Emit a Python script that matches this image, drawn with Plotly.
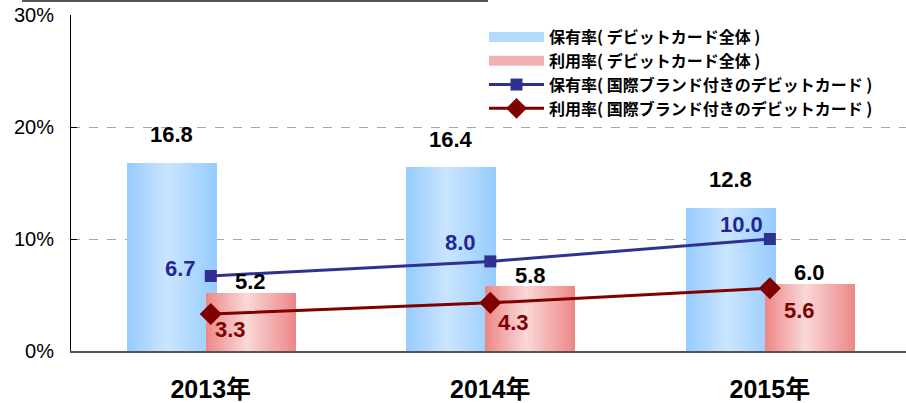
import plotly.graph_objects as go

# --- data -------------------------------------------------------------
years = ["2013年", "2014年", "2015年"]
own_all = [16.8, 16.4, 12.8]        # 保有率（デビットカード全体）
use_all = [5.2, 5.8, 6.0]           # 利用率（デビットカード全体）
own_intl = [6.7, 8.0, 10.0]         # 保有率（国際ブランド付きのデビットカード）
use_intl = [3.3, 4.3, 5.6]          # 利用率（国際ブランド付きのデビットカード）
y_ticks = [0, 10, 20, 30]
y_tick_text = ["0%", "10%", "20%", "30%"]

names = [
    "保有率( デビットカード全体 )",
    "利用率( デビットカード全体 )",
    "保有率( 国際ブランド付きのデビットカード )",
    "利用率( 国際ブランド付きのデビットカード )",
]

# --- style ------------------------------------------------------------
W, H = 906, 403
ML, MT, MB = 71, 15, 52
xpos = list(range(len(years)))
X_RANGE = [-0.5, 2.487]

BAR_W = 0.322
BLUE_OFF = -0.3005
PINK_OFF = -0.018
N_SLICES = 40

BLUE_EDGE, BLUE_LIGHT = (150, 203, 253), (202, 229, 254)
PINK_EDGE, PINK_LIGHT = (237, 134, 134), (250, 216, 216)
NAVY = "#2E3192"
MAROON = "#800000"

FONT = "Liberation Sans, Arial, Noto Sans CJK JP, sans-serif"
JP_FONT = "Noto Sans CJK JP, Liberation Sans, sans-serif"


def shade(edge, light, t, peak=0.45):
    f = t / peak if t <= peak else (1 - t) / (1 - peak)
    f = max(0.0, min(1.0, f))
    return "rgb(%d,%d,%d)" % tuple(round(e + (l - e) * f) for e, l in zip(edge, light))


fig = go.Figure()


def gradient_bars(values, offset, edge, light, name, legend_color):
    step = BAR_W / N_SLICES
    for i in range(N_SLICES):
        t = (i + 0.5) / N_SLICES
        fig.add_trace(go.Bar(
            x=xpos, y=values,
            offset=offset + i * step,
            width=step * (2.0 if i < N_SLICES - 1 else 1.0),
            marker=dict(color=shade(edge, light, t), line=dict(width=0)),
            showlegend=False, hoverinfo="skip",
        ))
    # legend entry for the series: a thick swatch
    fig.add_trace(go.Scatter(
        x=[None], y=[None], name=name, mode="lines",
        line=dict(color=legend_color, width=14),
    ))


gradient_bars(own_all, BLUE_OFF, BLUE_EDGE, BLUE_LIGHT, names[0], "#b4dafd")
gradient_bars(use_all, PINK_OFF, PINK_EDGE, PINK_LIGHT, names[1], "#f3b0b0")

fig.add_trace(go.Scatter(
    x=xpos, y=own_intl, name=names[2], mode="lines+markers",
    line=dict(color=NAVY, width=3),
    marker=dict(symbol="square", size=12, color=NAVY),
))
fig.add_trace(go.Scatter(
    x=xpos, y=use_intl, name=names[3], mode="lines+markers",
    line=dict(color=MAROON, width=3),
    marker=dict(symbol="diamond", size=17, color=MAROON),
))

# --- value labels -----------------------------------------------------
label_font = dict(family=FONT, size=22, color="black")
for i, v in enumerate(own_all):
    fig.add_annotation(x=xpos[i] + BLUE_OFF + BAR_W / 2, y=v, text="<b>%.1f</b>" % v,
                       showarrow=False, yshift=28, font=label_font)
for i, v in enumerate(use_all):
    fig.add_annotation(x=xpos[i] + PINK_OFF + BAR_W / 2, y=v, text="<b>%.1f</b>" % v,
                       showarrow=False, yshift=11, font=label_font)

own_shift = [(-30, 7), (-30, 19), (-28, 15)]
for i, v in enumerate(own_intl):
    dx, dy = own_shift[i]
    fig.add_annotation(x=xpos[i], y=v, text="<b>%.1f</b>" % v, showarrow=False,
                       xshift=dx, yshift=dy, font=dict(family=FONT, size=22, color="#1F2896"))
use_shift = [(20, -15), (23, -20), (30, -22)]
for i, v in enumerate(use_intl):
    dx, dy = use_shift[i]
    fig.add_annotation(x=xpos[i], y=v, text="<b>%.1f</b>" % v, showarrow=False,
                       xshift=dx, yshift=dy, font=dict(family=FONT, size=22, color=MAROON))

# thin rule at the very top
fig.add_shape(type="line", xref="paper", yref="paper",
              x0=(22 - ML) / (W - ML), x1=(488 - ML) / (W - ML),
              y0=1 + 14 / (H - MT - MB), y1=1 + 14 / (H - MT - MB),
              line=dict(color="#555555", width=2))

fig.update_layout(
    width=W, height=H,
    margin=dict(l=ML, r=0, t=MT, b=MB, pad=0),
    paper_bgcolor="white", plot_bgcolor="white",
    barmode="overlay", bargap=0,
    showlegend=True,
    legend=dict(
        x=(484 - ML) / (W - ML), y=0.985, xanchor="left", yanchor="top",
        bgcolor="rgba(255,255,255,0)", borderwidth=0,
        font=dict(family=JP_FONT, size=16, color="black", weight="bold"),
        tracegroupgap=0, itemwidth=55, traceorder="normal",
    ),
    xaxis=dict(
        range=X_RANGE, tickmode="array", tickvals=xpos, ticktext=years,
        showline=True, linecolor="#555555", linewidth=2, ticks="",
        showgrid=False, zeroline=False, automargin=False,
        tickfont=dict(family=FONT, size=25, color="black", weight="bold"),
        ticklabelstandoff=15,
    ),
    yaxis=dict(
        range=[0, 30], tickmode="array", tickvals=y_ticks, ticktext=y_tick_text,
        showline=True, linecolor="black", linewidth=1,
        ticks="inside", ticklen=6, tickcolor="black",
        showgrid=True, gridcolor="#a6a6a6", griddash="dash", gridwidth=1,
        zeroline=False, automargin=False,
        tickfont=dict(family=FONT, size=20, color="black"),
        ticklabelstandoff=12,
    ),
)

fig.write_html("out.html")
